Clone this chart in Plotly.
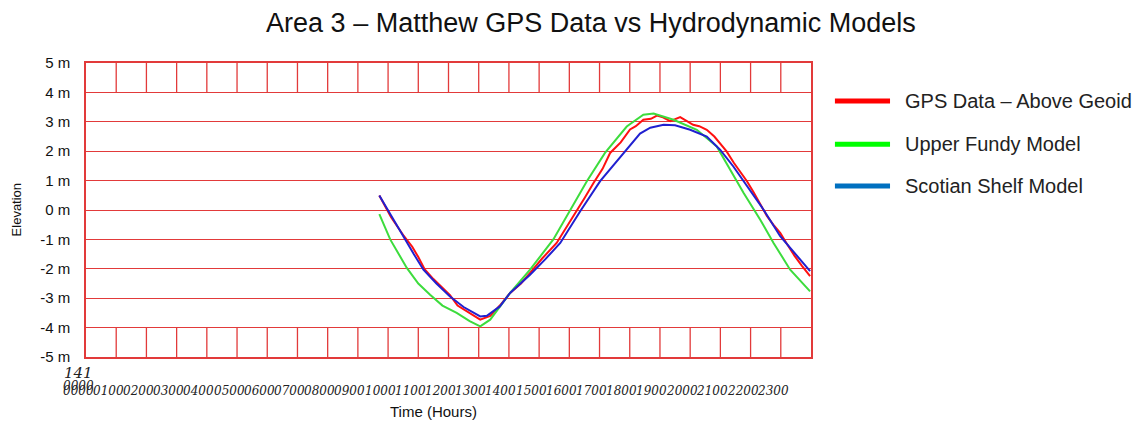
import plotly.graph_objects as go

# Data (hours, elevation in metres)
gps_hours = [9.71, 10.1, 10.5, 10.8, 11.0, 11.2, 11.5, 11.8, 12.05, 12.3, 12.6, 12.85, 13.05,
             13.38, 13.7, 14.04, 14.4, 14.7, 15.1, 15.58, 15.9, 16.25, 16.5, 16.8, 17.1, 17.35,
             17.7, 18.01, 18.2, 18.45, 18.7, 18.9, 19.1, 19.34, 19.5, 19.67, 19.85, 20.1, 20.3,
             20.55, 20.8, 20.99, 21.2, 21.45, 21.65, 21.88, 22.1, 22.3, 22.54, 22.75, 22.98,
             23.2, 23.45, 23.7, 23.97]
gps_elev = [0.49, -0.25, -0.85, -1.25, -1.6, -2.0, -2.35, -2.65, -2.9, -3.25, -3.45, -3.6, -3.73,
            -3.6, -3.25, -2.82, -2.5, -2.14, -1.65, -1.12, -0.6, 0.0, 0.4, 0.92, 1.4, 1.94,
            2.3, 2.74, 2.85, 3.07, 3.1, 3.21, 3.15, 3.02, 3.08, 3.16, 3.05, 2.9, 2.85,
            2.73, 2.5, 2.28, 2.0, 1.6, 1.3, 0.98, 0.6, 0.25, -0.2, -0.5, -0.78,
            -1.15, -1.55, -1.9, -2.25]

fundy_hours = [9.71, 10.07, 10.62, 11.0, 11.39, 11.8, 12.27, 12.7, 13.05, 13.38, 14.04, 14.7,
               15.47, 16.03, 16.58, 17.18, 17.9, 18.45, 18.79, 19.45, 20.22, 20.88, 21.32,
               21.77, 22.32, 22.76, 23.31, 23.97]
fundy_elev = [-0.14, -1.0, -1.97, -2.5, -2.88, -3.25, -3.5, -3.78, -3.96, -3.73, -2.82, -2.03,
              -1.0, 0.0, 0.98, 1.94, 2.84, 3.24, 3.28, 3.07, 2.73, 2.16, 1.37,
              0.58, -0.33, -1.12, -2.03, -2.77]

shelf_hours = [9.71, 10.1, 10.5, 10.85, 11.17, 11.6, 12.05, 12.5, 13.05, 13.27, 13.7, 14.04,
               14.7, 15.2, 15.7, 16.36, 17.02, 17.79, 18.34, 18.68, 19.12, 19.5, 20.0, 20.55,
               20.99, 21.43, 21.88, 22.43, 22.98, 23.53, 23.97]
shelf_elev = [0.49, -0.2, -0.9, -1.5, -2.03, -2.5, -2.94, -3.3, -3.62, -3.6, -3.28, -2.82,
              -2.2, -1.68, -1.12, -0.04, 0.98, 1.94, 2.6, 2.8, 2.9, 2.88, 2.73, 2.5,
              2.05, 1.48, 0.8, 0.01, -0.89, -1.57, -2.08]

series_names = ["GPS Data – Above Geoid", "Upper Fundy Model", "Scotian Shelf Model"]
line_colors = ["#ff1010", "#3ddc3d", "#2020d0"]
legend_colors = ["#ff0000", "#00ff00", "#0070c0"]

hour_labels = [f"{h:02d}00" for h in range(24)]
y_ticks = list(range(-5, 6))
y_labels = [f"{v} m" for v in y_ticks]

GRID = "#e23a3a"

fig = go.Figure()

for hrs, elev, name, col in zip([gps_hours, fundy_hours, shelf_hours],
                                [gps_elev, fundy_elev, shelf_elev],
                                series_names, line_colors):
    fig.add_trace(go.Scatter(x=hrs, y=elev, mode="lines", name=name,
                             line=dict(color=col, width=2), showlegend=False))

# vertical grid only in the top and bottom bands
shapes = []
for h in range(1, 24):
    for y0, y1 in [(4, 5), (-5, -4)]:
        shapes.append(dict(type="line", xref="x", yref="y", x0=h, x1=h, y0=y0, y1=y1,
                           line=dict(color=GRID, width=1.3), layer="below"))

# hand-drawn legend on the right
annotations = []
legend_y = [0.871, 0.724, 0.582]
for yp, name, col in zip(legend_y, series_names, legend_colors):
    shapes.append(dict(type="line", xref="paper", yref="paper", x0=1.033, x1=1.109,
                       y0=yp, y1=yp, line=dict(color=col, width=5)))
    annotations.append(dict(text=name, xref="paper", yref="paper", x=1.127, y=yp,
                            xanchor="left", yanchor="middle", showarrow=False,
                            font=dict(size=20, color="#222222", family="Liberation Sans")))

# squashed hour labels under the axis
for h, lab in zip(range(24), hour_labels):
    annotations.append(dict(text=f"<i>{lab}</i>", xref="x", yref="paper", x=h, y=-0.116,
                            xshift=-8, xanchor="center", yanchor="middle", showarrow=False,
                            font=dict(size=12, color="#222222", family="DejaVu Serif")))
annotations.append(dict(text="<i>0000</i>", xref="x", yref="paper", x=0, y=-0.097,
                        xshift=-8, xanchor="center", yanchor="middle", showarrow=False,
                        font=dict(size=12, color="#222222", family="DejaVu Serif")))
annotations.append(dict(text="<i>141</i>", xref="x", yref="paper", x=0, y=-0.054,
                        xshift=-8, xanchor="center", yanchor="middle", showarrow=False,
                        font=dict(size=15, color="#222222", family="DejaVu Serif")))
annotations.append(dict(text="Time (Hours)", xref="paper", yref="paper", x=0.479, y=-0.184,
                        xanchor="center", yanchor="middle", showarrow=False,
                        font=dict(size=15, color="#111111", family="Liberation Sans")))
annotations.append(dict(text="Elevation", xref="paper", yref="paper", x=-0.096, y=0.5,
                        xanchor="center", yanchor="middle", showarrow=False, textangle=-90,
                        font=dict(size=13, color="#111111", family="Liberation Sans")))

fig.update_layout(
    width=1132, height=415,
    margin=dict(l=78, r=329, t=55, b=66),
    paper_bgcolor="white", plot_bgcolor="white",
    title=dict(text="Area 3 – Matthew GPS Data vs Hydrodynamic Models", x=0.515, y=0.966,
               xanchor="center", yanchor="middle",
               font=dict(size=27, color="#111111", family="Liberation Sans")),
    font=dict(family="Liberation Sans", color="#111111"),
    shapes=shapes, annotations=annotations,
)
fig.update_xaxes(range=[0, 24], showgrid=False, zeroline=False, showticklabels=False,
                 showline=True, linecolor=GRID, linewidth=1.5, mirror=True)
fig.update_yaxes(range=[-5, 5], tickvals=y_ticks, ticktext=y_labels, showgrid=True,
                 gridcolor=GRID, gridwidth=1.3, zeroline=False,
                 showline=True, linecolor=GRID, linewidth=1.5, mirror=True,
                 tickfont=dict(size=15), ticks="", ticklabelstandoff=11)

fig.write_html("out.html")
